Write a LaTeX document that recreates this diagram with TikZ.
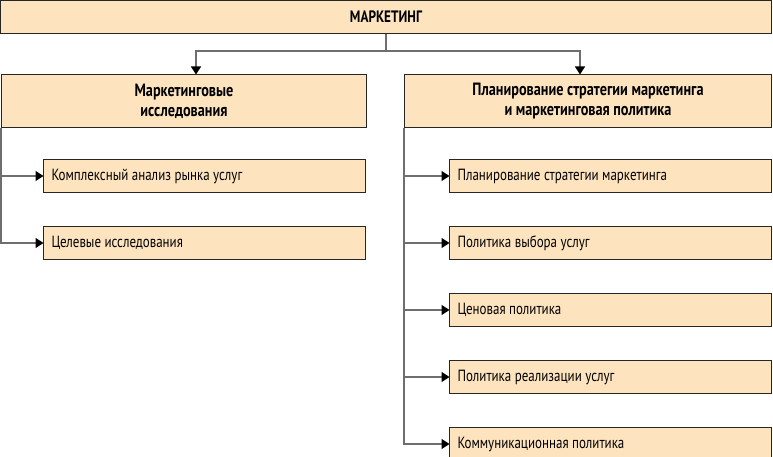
\documentclass[tikz,border=0pt]{standalone}
\usepackage{fontspec}
\setmainfont{PT Sans}[FakeStretch=0.8]
\usetikzlibrary{positioning, arrows.meta, calc}
\definecolor{boxfill}{RGB}{253,228,191}
\definecolor{linegray}{RGB}{110,110,110}

\begin{document}
\begin{tikzpicture}[
    x=1pt, y=-1pt,
    box/.style={rectangle, draw=black!85, line width=1pt, fill=boxfill, inner sep=0pt},
    headbox/.style={box, minimum height=33pt, font=\fontsize{16.5}{18}\selectfont\bfseries},
    groupbox/.style={box, minimum height=53pt, align=center, font=\fontsize{17.8}{20}\selectfont\bfseries},
    itembox/.style={box, minimum height=33pt, text width=306pt, inner xsep=8pt, align=flush left, font=\fontsize{16.2}{18}\selectfont},
    link/.style={draw=linegray, line width=1.3pt},
    arrow/.style={link, -{Triangle[length=8pt, width=10pt, black]}, shorten >=-0.5pt}
]
\useasboundingbox (0,0) rectangle (773,457);

% Nodes
\node[headbox, anchor=north west, minimum width=771pt] (marketing) at (0,0) {МАРКЕТИНГ};
\node[groupbox, anchor=north west, minimum width=365pt] (research) at (1,74) {Маркетинговые\\исследования};
\node[groupbox, anchor=north west, minimum width=367pt] (planning) at (404,74) {Планирование стратегии маркетинга\\и маркетинговая политика};

\node[itembox, anchor=north west] (res1) at (43,159) {Комплексный анализ рынка услуг};
\node[itembox, below=33pt of res1] (res2) {Целевые исследования};

\node[itembox, anchor=north west] (plan1) at (449,159) {Планирование стратегии маркетинга};
\node[itembox, below=33pt of plan1] (plan2) {Политика выбора услуг};
\node[itembox, below=33pt of plan2] (plan3) {Ценовая политика};
\node[itembox, below=33pt of plan3] (plan4) {Политика реализации услуг};
\node[itembox, below=33pt of plan4] (plan5) {Коммуникационная политика};

% Edges
\draw[link] (marketing.south) -- +(0,17) coordinate (fork);
\draw[arrow] (fork) -| ([xshift=12pt]research.north);
\draw[arrow] (fork) -| ([xshift=-8pt]planning.north);

\foreach \i in {1,2}
    \draw[arrow] (research.south west) |- (res\i.west);
\foreach \i in {1,...,5}
    \draw[arrow] (planning.south west) |- (plan\i.west);

\end{tikzpicture}
\end{document}
